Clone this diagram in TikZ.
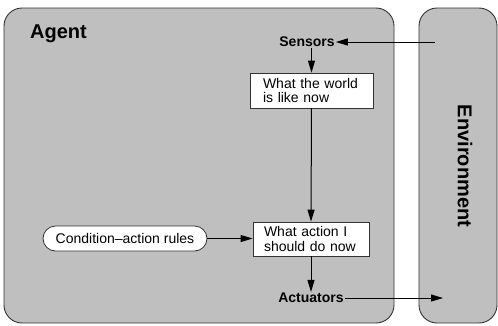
\documentclass[tikz,border=0pt]{standalone}
\usepackage{fontspec}
\setmainfont{Liberation Sans}
\usetikzlibrary{arrows.meta}
\begin{document}
\begin{tikzpicture}[x=1pt,y=-1pt,
  big/.style={draw=black!80,fill=black!25,line width=0.9pt,rounded corners=18pt},
  whitebox/.style={draw=black!80,fill=white,line width=0.8pt,inner sep=0pt,align=left,font=\fontsize{14}{14.5}\selectfont},
  lbl/.style={font=\fontsize{14}{15}\selectfont\bfseries,inner sep=1pt},
  title/.style={font=\fontsize{20}{22}\selectfont\bfseries,inner sep=0pt},
  arr/.style={-{Triangle[length=12pt,width=7pt]},line width=1pt,black},
  ln/.style={line width=1pt,black}]
\useasboundingbox (0,0) rectangle (498,325);
\draw[big] (4,8) rectangle (394,323);
\draw[big] (419,8) rectangle (497,323);
\node[title,anchor=base west] (agent) at (30,38) {Agent};
\node[title,rotate=-90] (env) at (465,166) {Environment};
\node[lbl] (sensors) at (307,42) {Sensors};
\node[lbl] (actuators) at (311,298) {Actuators};
\node[whitebox,minimum width=123pt,minimum height=35pt,text width=97pt] (world) at (311.5,90.5) {What the world\\is like now};
\node[whitebox,minimum width=116pt,minimum height=34pt,text width=94pt] (action) at (311,239) {What action I\\should do now};
\node[whitebox,rounded corners=12.5pt,minimum width=164pt,minimum height=25pt,align=center] (rules) at (125,238.5) {Condition--action rules};
\coordinate (envin) at (435,42);
\coordinate (envout) at (443,299);
\draw[arr] (envin) -- (sensors.east);
\draw[arr] (sensors.south -| world.north) -- (world.north);
\draw[arr] (world.south) -- (action.north);
\draw[arr] (action.south) -- (actuators.north -| action.south);
\draw[arr] (actuators.east) -- (envout |- actuators.east);
\draw[arr] (rules.east) -- (rules.east -| action.west);
\end{tikzpicture}
\end{document}
